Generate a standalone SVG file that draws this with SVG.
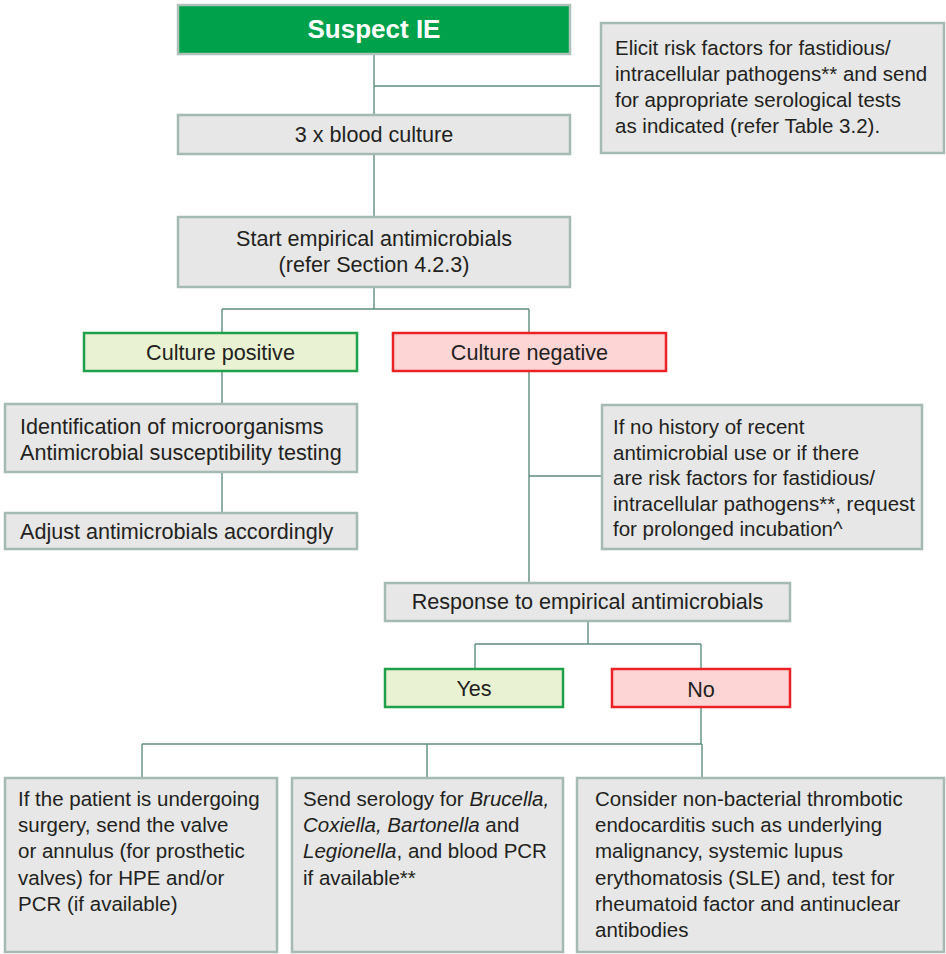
<svg xmlns="http://www.w3.org/2000/svg" width="946" height="954" viewBox="0 0 946 954">
<style>
.g{fill:#E6E7E6;stroke:#A5BAB2;stroke-width:2.5}
.s{fill:#00A14B;stroke:#AFC2BA;stroke-width:2.5}
.p{fill:#E9F2D2;stroke:#1FA04A;stroke-width:2.5}
.n{fill:#FDD5D4;stroke:#EC2227;stroke-width:2.5}
text{font-family:"Liberation Sans",Arial,Helvetica,sans-serif;font-size:20.5px;fill:#231F20}
.l{font-size:21.6px}
.c{text-anchor:middle}
.b{font-weight:bold;font-size:26px;fill:#FFFFFF}
.conn{fill:none;stroke:#5F8D80;stroke-width:1.4}
</style>
<g id="connectors" class="conn">
<path d="M374 54V217M374 86H601M374 287V309M222 309H529M222 309V333M529 309V333M222 371V404M222 472V513M529 371V583M529 476H602M588 621V644M475 644H701M475 644V669M701 644V669M701 707V744M142 744H702M142 744V778M427 744V778M702 744V778"/>
</g>
<g id="suspect"><rect class="s" x="178" y="5" width="392" height="49"/><text class="c b" x="374" y="38">Suspect IE</text></g>
<g id="blood"><rect class="g" x="178" y="115" width="392" height="39"/><text class="c l" x="374" y="142">3 x blood culture</text></g>
<g id="elicit"><rect class="g" x="601" y="23" width="343" height="130"/>
<text x="615" y="55">Elicit risk factors for fastidious/</text>
<text x="615" y="81">intracellular pathogens** and send</text>
<text x="615" y="107">for appropriate serological tests</text>
<text x="615" y="133">as indicated (refer Table 3.2).</text></g>
<g id="start"><rect class="g" x="178" y="217" width="392" height="70"/>
<text class="c l" x="374" y="246">Start empirical antimicrobials</text>
<text class="c l" x="374" y="272">(refer Section 4.2.3)</text></g>
<g id="cpos"><rect class="p" x="84" y="333" width="273" height="38"/><text class="c l" x="220.5" y="360">Culture positive</text></g>
<g id="cneg"><rect class="n" x="393" y="333" width="273" height="38"/><text class="c l" x="529.5" y="360">Culture negative</text></g>
<g id="ident"><rect class="g" x="5" y="404" width="352" height="68"/>
<text class="l" x="20" y="434">Identification of microorganisms</text>
<text class="l" x="20" y="460">Antimicrobial susceptibility testing</text></g>
<g id="adjust"><rect class="g" x="5" y="513" width="352" height="36"/><text class="l" x="20" y="539">Adjust antimicrobials accordingly</text></g>
<g id="nohistory"><rect class="g" x="602" y="405" width="320" height="144"/>
<text x="613" y="434">If no history of recent</text>
<text x="613" y="459.5">antimicrobial use or if there</text>
<text x="613" y="485">are risk factors for fastidious/</text>
<text x="613" y="510.5">intracellular pathogens**, request</text>
<text x="613" y="536">for prolonged incubation^</text></g>
<g id="response"><rect class="g" x="385" y="583" width="405" height="38"/><text class="c l" x="587.5" y="609">Response to empirical antimicrobials</text></g>
<g id="yes"><rect class="p" x="385" y="669" width="178" height="38"/><text class="c l" x="474" y="696">Yes</text></g>
<g id="no"><rect class="n" x="612" y="669" width="178" height="38"/><text class="c l" x="701" y="697">No</text></g>
<g id="surgery"><rect class="g" x="5" y="778" width="272" height="174"/>
<text x="18" y="806">If the patient is undergoing</text>
<text x="18" y="832.2">surgery, send the valve</text>
<text x="18" y="858.4">or annulus (for prosthetic</text>
<text x="18" y="884.6">valves) for HPE and/or</text>
<text x="18" y="910.8">PCR (if available)</text></g>
<g id="serology"><rect class="g" x="292" y="778" width="271" height="174"/>
<text x="303" y="806">Send serology for <tspan font-style="italic">Brucella,</tspan></text>
<text x="303" y="832.2"><tspan font-style="italic">Coxiella, Bartonella</tspan> and</text>
<text x="303" y="858.4"><tspan font-style="italic">Legionella</tspan>, and blood PCR</text>
<text x="303" y="884.6">if available**</text></g>
<g id="nonbacterial"><rect class="g" x="577" y="778" width="367" height="174"/>
<text x="595" y="806">Consider non-bacterial thrombotic</text>
<text x="595" y="832.2">endocarditis such as underlying</text>
<text x="595" y="858.4">malignancy, systemic lupus</text>
<text x="595" y="884.6">erythomatosis (SLE) and, test for</text>
<text x="595" y="910.8">rheumatoid factor and antinuclear</text>
<text x="595" y="937">antibodies</text></g>
</svg>
